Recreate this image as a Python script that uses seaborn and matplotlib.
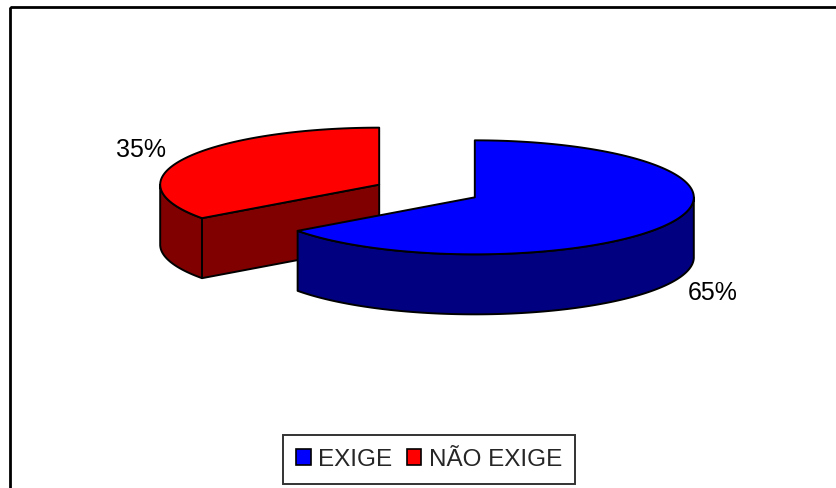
import numpy as np
import matplotlib
matplotlib.use("Agg")
import matplotlib.pyplot as plt
from matplotlib.patches import Polygon, Rectangle, Patch
import seaborn as sns

# ---- data ----
categories = ["EXIGE", "NÃO EXIGE"]
values = [65, 35]
pct_labels = ["65%", "35%"]
top_colors = ["#0000FF", "#FF0000"]
side_colors = ["#000080", "#800000"]

sns.set_theme(style="white")
plt.rcParams['font.family'] = ['Liberation Sans', 'DejaVu Sans']

W, H = 836, 488
fig = plt.figure(figsize=(W / 100, H / 100), dpi=100)
ax = fig.add_axes([0, 0, 1, 1])
ax.set_xlim(0, W)
ax.set_ylim(H, 0)
ax.axis("off")

# ---- geometry of the 3D pie (pixel units) ----
cx, cy = 427.0, 191.0
a, b = 219.0, 57.0
depth = 60.0
explode = 0.245
lab_k = 1.22
lw = 1.4

fracs = np.array(values, float) / np.sum(values)
spans = fracs * 360.0
# slices start at 12 o'clock and run clockwise
ends = 90.0 - np.concatenate([[0], np.cumsum(spans)[:-1]])
starts = ends - spans  # ccw start

def pt(x0, y0, th, dz=0.0):
    r = np.deg2rad(th)
    return x0 + a * np.cos(r), y0 - b * np.sin(r) + dz

slices = []
for i in range(len(values)):
    t1, t2 = starts[i], ends[i]
    mid = np.deg2rad((t1 + t2) / 2)
    sx = cx + a * explode * np.cos(mid)
    sy = cy - b * explode * np.sin(mid)
    slices.append((sy, i, t1, t2, sx))

slices.sort()
for sy, i, t1, t2, sx in slices:
    off = np.floor(t1 / 360.0) * 360.0
    u1, u2 = t1 - off, t2 - off
    # outer visible wall
    for lo_b, hi_b in [(180, 360), (540, 720)]:
        lo, hi = max(u1, lo_b), min(u2, hi_b)
        if hi > lo:
            th = np.linspace(lo, hi, 200)
            xs, ys = pt(sx, sy, th)
            top = np.column_stack([xs, ys])
            bot = np.column_stack([xs, ys + depth])[::-1]
            ax.add_patch(Polygon(np.vstack([top, bot]), closed=True,
                                 facecolor=side_colors[i], edgecolor="black",
                                 lw=lw, zorder=2, joinstyle="round"))
    # radial cut faces
    for th, nrm in [(t1, t1 - 90), (t2, t2 + 90)]:
        if np.sin(np.deg2rad(nrm)) < -1e-6:
            ex, ey = pt(sx, sy, th)
            quad = [(sx, sy), (ex, ey), (ex, ey + depth), (sx, sy + depth)]
            ax.add_patch(Polygon(quad, closed=True, facecolor=side_colors[i],
                                 edgecolor="black", lw=lw, zorder=2,
                                 joinstyle="round"))
    # top face
    th = np.linspace(t1, t2, 300)
    xs, ys = pt(sx, sy, th)
    poly = np.vstack([[sx, sy], np.column_stack([xs, ys])])
    ax.add_patch(Polygon(poly, closed=True, facecolor=top_colors[i],
                         edgecolor="black", lw=lw, zorder=2, joinstyle="round"))
    # label
    mid = (t1 + t2) / 2
    lx, ly = pt(sx, sy, mid)
    lx = sx + (lx - sx) * lab_k
    ly = sy + (ly - sy) * lab_k
    if np.sin(np.deg2rad(mid)) < 0:
        ly += depth + 4
    else:
        ly -= 3
    ax.text(lx, ly, pct_labels[i], fontsize=18, ha="center", va="center",
            color="black", zorder=3)

# outer chart frame
ax.add_patch(Rectangle((10, 7), W, H, fill=False, edgecolor="black",
                       lw=2, zorder=4))

handles = [Patch(facecolor=c, edgecolor="black", lw=1.2) for c in top_colors]
leg = fig.legend(handles, categories, loc="lower center", ncol=2,
                 bbox_to_anchor=(429 / W, 1 - 484 / H), fontsize=17.5,
                 frameon=True, fancybox=False, edgecolor="black",
                 handlelength=0.6, handleheight=0.6, handletextpad=0.3,
                 columnspacing=0.6, borderpad=0.55, borderaxespad=0)
leg.get_frame().set_linewidth(1.4)

fig.savefig("out.png", dpi=100, facecolor="white")
